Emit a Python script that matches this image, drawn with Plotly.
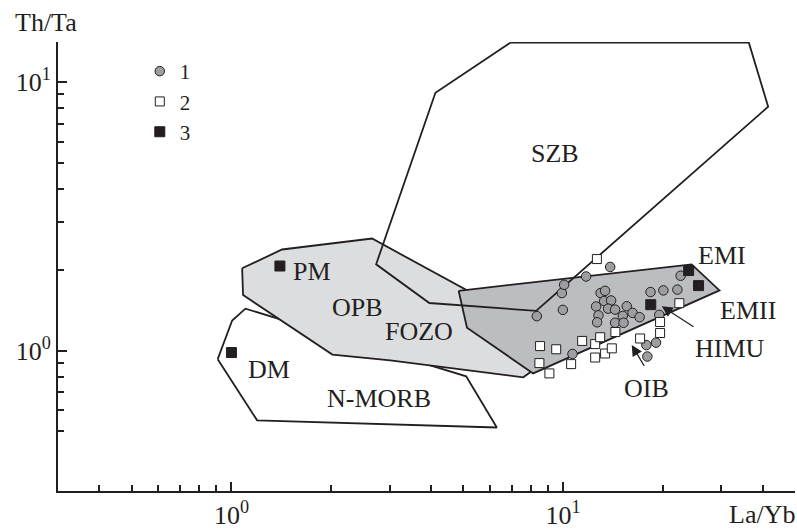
import numpy as np
import plotly.graph_objects as go

# ---------------- data ----------------
# series 1 (grey circles)
s1_layb = [8.33, 9.98, 9.91, 10.07, 11.73, 13.86, 10.67, 12.97, 13.38, 13.29, 13.95, 12.57, 13.66, 14.34, 12.78,
           12.66, 15.55, 15.13, 16.19, 17.0, 14.34, 15.21, 18.34, 20.05, 22.1, 22.6, 19.49, 17.82, 19.06, 17.94]
s1_thta = [1.343, 1.417, 1.637, 1.757, 1.887, 2.047, 0.971, 1.637, 1.669, 1.529, 1.536, 1.459, 1.432, 1.420, 1.352,
           1.274, 1.462, 1.346, 1.381, 1.331, 1.269, 1.269, 1.651, 1.675, 1.686, 1.899, 1.358, 1.048, 1.070, 0.950]
# series 2 (open squares)
s2_layb = [12.64, 8.52, 9.53, 11.41, 8.48, 9.09, 10.57, 12.49, 12.49, 12.93, 13.38, 14.02, 14.37, 17.06, 19.6, 19.6, 22.4]
s2_thta = [2.191, 1.039, 1.011, 1.086, 0.898, 0.822, 0.890, 0.942, 1.057, 1.121, 0.975, 1.019, 1.172, 1.109, 1.277, 1.162, 1.501]
# series 3 (filled squares: HIMU, EMI, EMII, PM, DM)
s3_layb = [18.37, 23.9, 25.6, 1.40, 1.00]
s3_thta = [1.482, 1.985, 1.745, 2.064, 0.983]

# fields
szb_layb = [6.93, 36.3, 41.5, 8.29, 3.95, 2.73, 4.12]
szb_thta = [14.0, 14.0, 8.09, 1.405, 1.503, 2.094, 9.11]
opb_layb = [1.077, 1.421, 2.654, 6.03, 8.12, 7.58, 3.012, 2.015, 1.084]
opb_thta = [2.025, 2.378, 2.612, 1.503, 0.844, 0.795, 0.919, 0.966, 1.61]
nmorb_layb = [0.909, 1.005, 1.102, 5.10, 6.31, 1.195]
nmorb_thta = [0.929, 1.294, 1.432, 0.802, 0.517, 0.550]
oib_layb = [4.84, 24.4, 29.6, 8.12, 5.13]
oib_thta = [1.669, 2.094, 1.675, 0.822, 1.216]

label_text = ["SZB", "EMI", "EMII", "HIMU", "OIB", "PM", "OPB", "FOZO", "DM", "N-MORB"]
label_layb = [9.46, 30.1, 36.1, 31.8, 17.8, 1.75, 2.391, 3.666, 1.302, 2.778]
label_thta = [5.42, 2.267, 1.408, 1.017, 0.724, 1.968, 1.441, 1.182, 0.853, 0.661]

# arrows: head and tail positions
arrow_head_layb = [19.83, 16.1]
arrow_head_thta = [1.462, 1.049]
arrow_tail_layb = [24.98, 17.66]
arrow_tail_thta = [1.216, 0.866]

x_ticks = [1, 10]
x_ticktext = ["10<sup>0</sup>", "10<sup>1</sup>"]
y_ticks = [1, 10]
y_ticktext = ["10<sup>0</sup>", "10<sup>1</sup>"]
x_minor = [0.4, 0.5, 0.6, 0.7, 0.8, 0.9, 2, 3, 4, 5, 6, 7, 8, 9, 20, 30, 40, 50]
y_minor = [0.5, 0.6, 0.7, 0.8, 0.9, 2, 3, 4, 5, 6, 7, 8, 9]

INK = "#231f20"
FONT = "Liberation Serif, Times New Roman, Times, serif"

def closed(a):
    return list(a) + [a[0]]

fig = go.Figure()

fig.add_trace(go.Scatter(x=closed(nmorb_layb), y=closed(nmorb_thta), mode="lines", fill="toself",
                         fillcolor="rgba(255,255,255,0)", line=dict(color=INK, width=1.8),
                         showlegend=False, hoverinfo="skip"))
fig.add_trace(go.Scatter(x=closed(opb_layb), y=closed(opb_thta), mode="lines", fill="toself",
                         fillcolor="#dcdddf", line=dict(color=INK, width=1.8),
                         showlegend=False, hoverinfo="skip"))
fig.add_trace(go.Scatter(x=closed(oib_layb), y=closed(oib_thta), mode="lines", fill="toself",
                         fillcolor="#bcbdc0", line=dict(color=INK, width=1.8),
                         showlegend=False, hoverinfo="skip"))
fig.add_trace(go.Scatter(x=closed(szb_layb), y=closed(szb_thta), mode="lines",
                         line=dict(color=INK, width=1.8),
                         showlegend=False, hoverinfo="skip"))

fig.add_trace(go.Scatter(x=s1_layb, y=s1_thta, mode="markers", name="1",
                         marker=dict(symbol="circle", size=9.5, color="#9d9ea1",
                                     line=dict(color=INK, width=1))))
fig.add_trace(go.Scatter(x=s2_layb, y=s2_thta, mode="markers", name="2",
                         marker=dict(symbol="square", size=9, color="white",
                                     line=dict(color=INK, width=1))))
fig.add_trace(go.Scatter(x=s3_layb, y=s3_thta, mode="markers", name="3",
                         marker=dict(symbol="square", size=10, color=INK,
                                     line=dict(color=INK, width=1))))

annotations = []
for t, xv, yv in zip(label_text, label_layb, label_thta):
    annotations.append(dict(x=np.log10(xv), y=np.log10(yv), xref="x", yref="y", text=t,
                            showarrow=False, font=dict(family=FONT, size=26, color=INK)))
for hx, hy, tx, ty in zip(arrow_head_layb, arrow_head_thta, arrow_tail_layb, arrow_tail_thta):
    annotations.append(dict(x=np.log10(hx), y=np.log10(hy), ax=np.log10(tx), ay=np.log10(ty),
                            xref="x", yref="y", axref="x", ayref="y", text="",
                            showarrow=True, arrowhead=2, arrowsize=1.8, arrowwidth=1.2,
                            arrowcolor=INK, standoff=0))
annotations.append(dict(x=-0.061, y=1.044, xref="paper", yref="paper", text="Th/Ta",
                        xanchor="left", yanchor="middle", showarrow=False,
                        font=dict(family=FONT, size=26, color=INK)))
annotations.append(dict(x=1.0027, y=-0.052, xref="paper", yref="paper", text="La/Yb",
                        xanchor="right", yanchor="middle", showarrow=False,
                        font=dict(family=FONT, size=26, color=INK)))

fig.update_layout(
    width=797, height=532,
    margin=dict(l=58, r=2, t=42, b=37),
    paper_bgcolor="white", plot_bgcolor="white",
    font=dict(family=FONT, size=26, color=INK),
    annotations=annotations,
    showlegend=True,
    legend=dict(x=0.111, y=0.98, xanchor="left", yanchor="top",
                bgcolor="rgba(0,0,0,0)", font=dict(family=FONT, size=21, color=INK),
                itemwidth=30, tracegroupgap=0),
    xaxis=dict(type="log", range=[np.log10(0.3), np.log10(50)],
               showline=True, linecolor=INK, linewidth=2, mirror=False,
               showgrid=False, zeroline=False,
               tickmode="array", tickvals=x_ticks, ticktext=x_ticktext,
               ticks="inside", ticklen=9, tickwidth=1.5, tickcolor=INK,
               tickfont=dict(family=FONT, size=26, color=INK),
               minor=dict(tickmode="array", tickvals=x_minor, ticks="inside",
                          ticklen=6, tickwidth=1.5, tickcolor=INK, showgrid=False)),
    yaxis=dict(type="log", range=[np.log10(0.3), 1.1487],
               showline=True, linecolor=INK, linewidth=2, mirror=False,
               showgrid=False, zeroline=False,
               tickmode="array", tickvals=y_ticks, ticktext=y_ticktext,
               ticks="inside", ticklen=9, tickwidth=1.5, tickcolor=INK,
               tickfont=dict(family=FONT, size=26, color=INK),
               minor=dict(tickmode="array", tickvals=y_minor, ticks="inside",
                          ticklen=6, tickwidth=1.5, tickcolor=INK, showgrid=False)),
)

fig.write_html("out.html")
